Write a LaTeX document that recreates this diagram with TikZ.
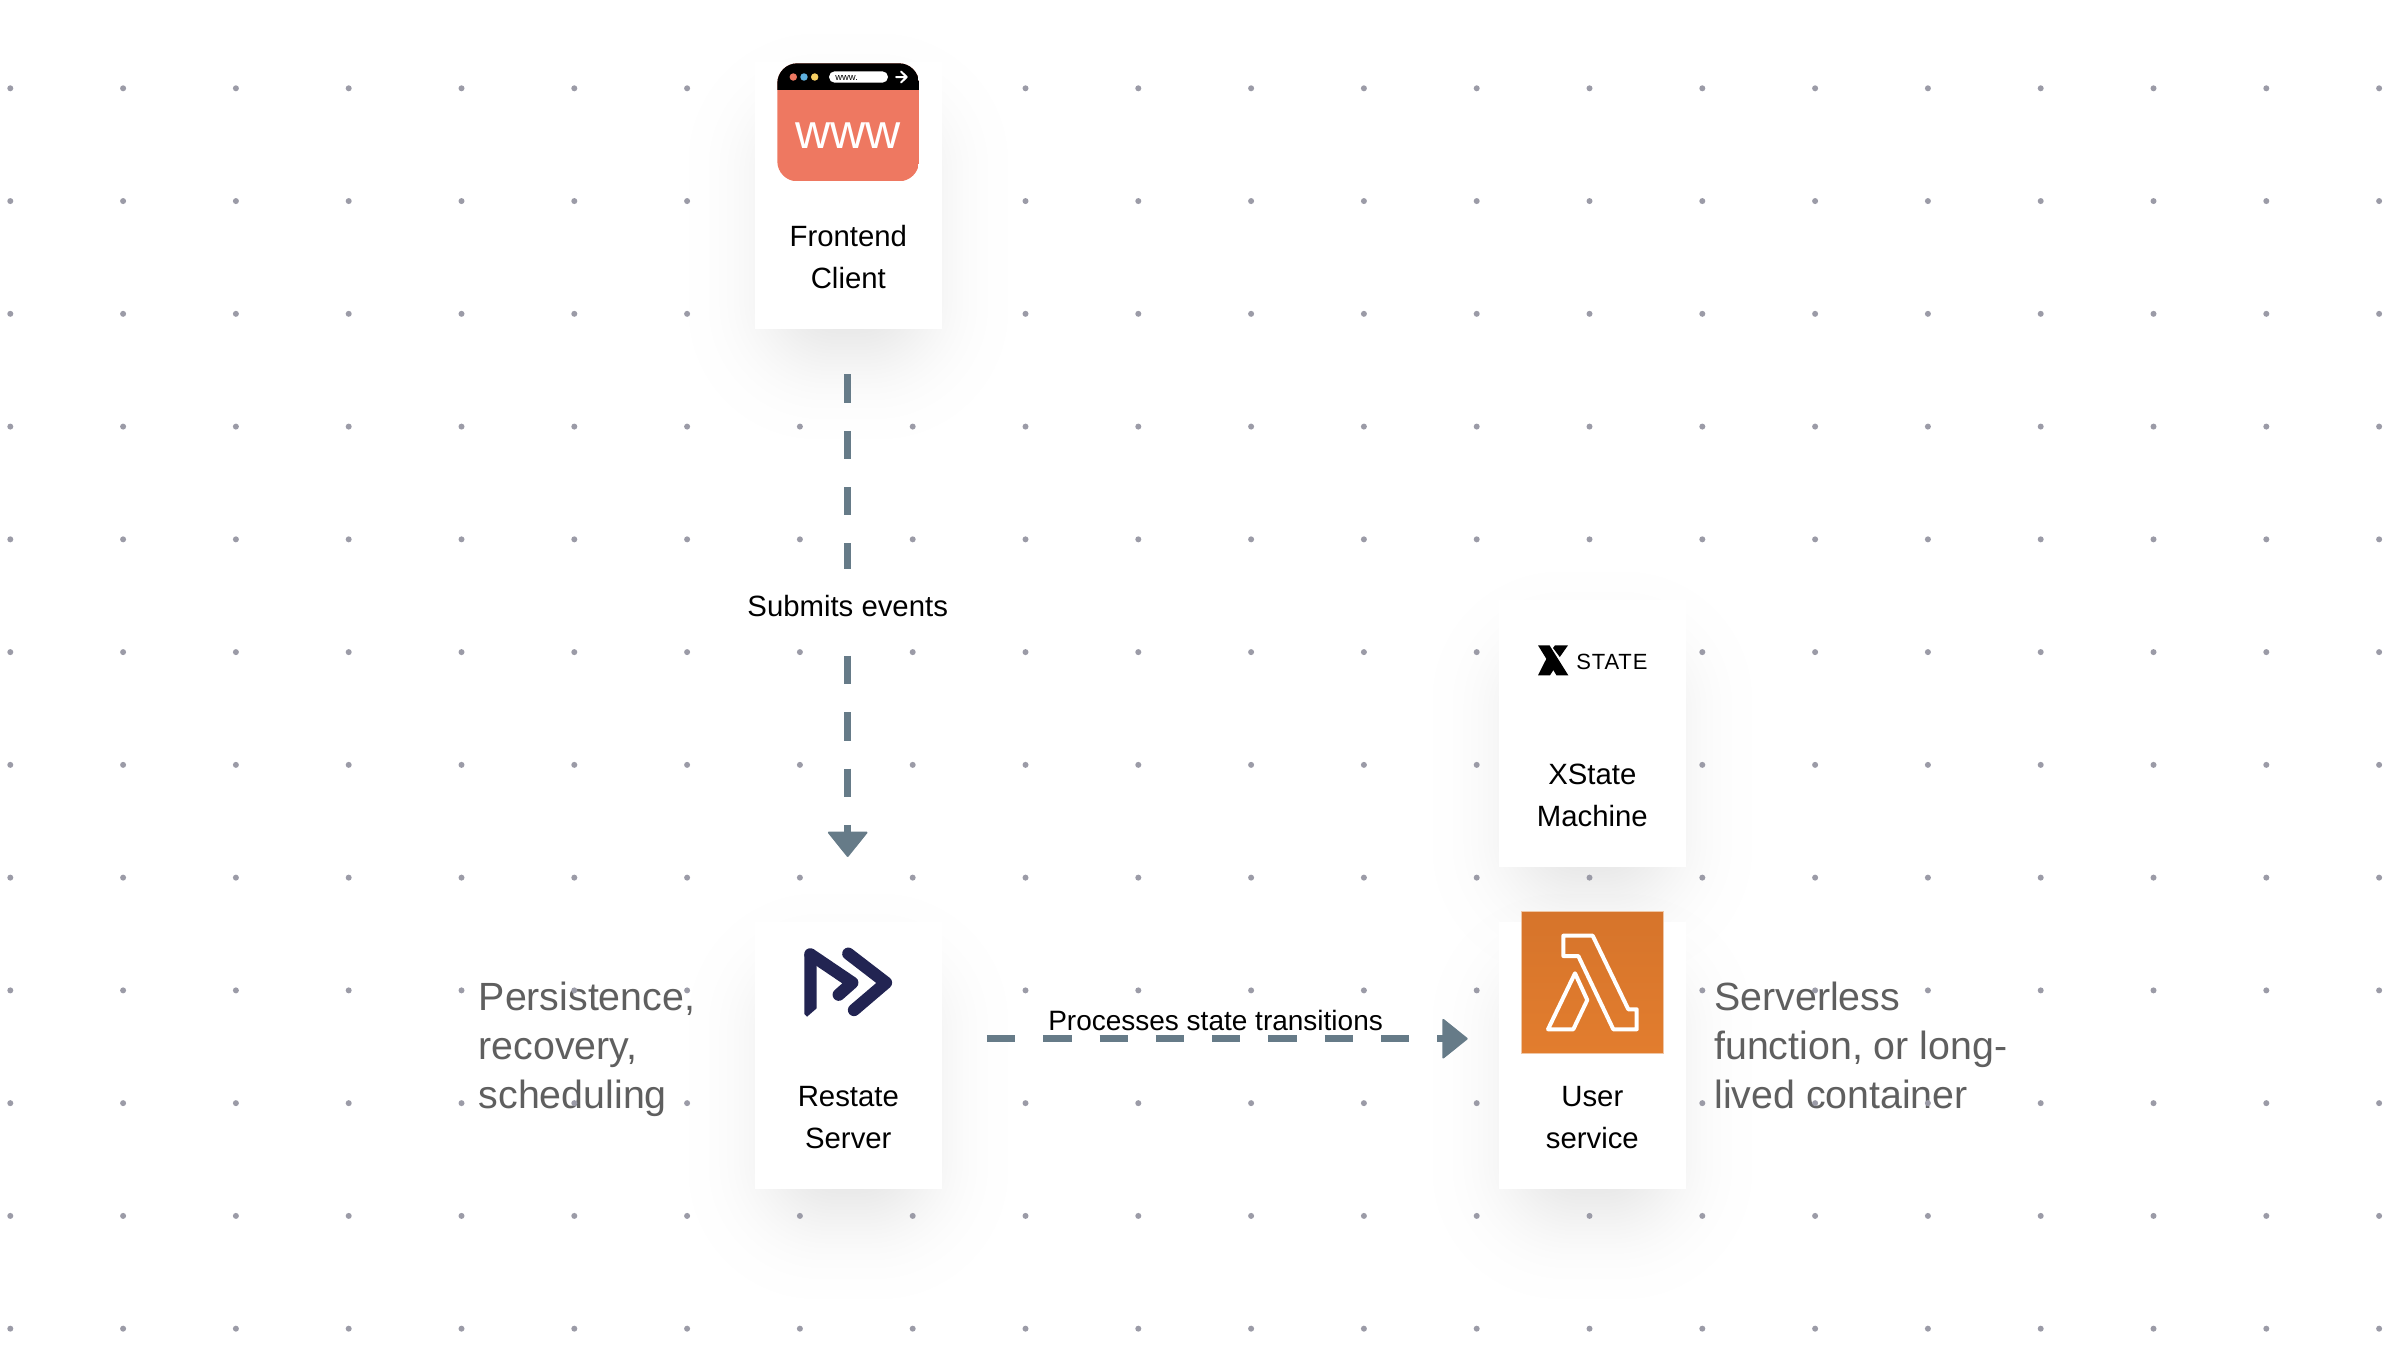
\documentclass[tikz,border=0pt]{standalone}
\usepackage{fontspec}
\setmainfont{Liberation Sans}
\usetikzlibrary{arrows.meta,calc}
\definecolor{dotc}{HTML}{9B9BA7}
\definecolor{conn}{HTML}{667B88}
\definecolor{sideg}{HTML}{5F5F5F}
\definecolor{salmon}{HTML}{EE7861}
\definecolor{dotblue}{HTML}{5FB0DF}
\definecolor{dotyellow}{HTML}{F6CE63}
\definecolor{rsnavy}{HTML}{222452}
\definecolor{lamtop}{HTML}{D6742B}
\definecolor{lambot}{HTML}{E27D2E}
\definecolor{lamedge}{HTML}{EFC6A5}
\newcommand{\cardshadow}[4]{%
  \foreach \z in {2.154,1.676,1.418,1.230,1.078,0.947,0.830,0.724,0.626,0.533,0.445,0.360,0.278,0.197,0.118,0.039,-0.039,-0.118,-0.197,-0.278,-0.360,-0.445,-0.533,-0.626,-0.724,-0.830,-0.947,-1.078,-1.230,-1.418,-1.676,-2.154}{%
    \pgfmathsetmacro\dd{\z*42}%
    \pgfmathsetmacro\rr{max(1,0.8*(70+\dd))*0.75}%
    \fill[black,opacity=.0055,rounded corners=\rr pt]
      ({#1+24-\dd},{#2+62-\dd}) rectangle ({#3-24+\dd},{#4+20+\dd});
  }%
}
\tikzset{
  card/.style={rectangle,fill=white,inner sep=0pt,minimum width=140.25pt,minimum height=200.25pt},
  cardlabel/.style={font=\fontsize{22}{31.5}\selectfont,align=center,inner sep=0pt,anchor=base,text=black},
  sidelabel/.style={font=\fontsize{29.5}{36.75}\selectfont,align=left,inner sep=0pt,anchor=base west,text=sideg},
  connector/.style={draw=conn,line width=5.25pt,dash pattern=on 21.2pt off 21.03pt,
    -{Triangle[length=19.5pt,width=31pt,line width=1.5pt,round]}},
}
\begin{document}
\begin{tikzpicture}[x=0.75pt,y=-0.75pt]
\useasboundingbox (0,0) rectangle (2400,1350);
\fill[white] (0,0) rectangle (2400,1350);
% shadows
\cardshadow{755}{62}{941.7}{328.7}
\cardshadow{1499}{600}{1685.7}{866.7}
\cardshadow{755}{922}{941.7}{1188.7}
\cardshadow{1499}{922}{1685.7}{1188.7}
% side texts
\node[sidelabel] (persist) at (478.5,1108) {Persistence,\\recovery,\\scheduling};
\node[sidelabel] (server) at (1714,1108) {Serverless\\function, or long-\\lived container};
% dots
\foreach \i in {0,...,21}{\foreach \j in {0,...,11}{
  \fill[dotc] ({10.3+112.8*\i},{88.3+112.76*\j}) circle (2.25pt);
}}
% cards
\node[card] (front) at (848.35,195.35) {};
\node[card] (xstate) at (1592.35,733.35) {};
\node[card] (restate) at (848.35,1055.35) {};
\node[card] (user) at (1592.35,1055.35) {};
% connectors
\draw[connector,shorten <=34pt,shorten >=48.5pt] ([xshift=-.5pt]front.south) -- ([xshift=-.5pt]restate.north);
\coordinate (rsout) at ([yshift=12.5pt]restate.east);
\coordinate (usin) at ([yshift=12.5pt]user.west);
\draw[connector,shorten <=33.6pt,shorten >=23.2pt] (rsout) -- (usin);
\node[inner xsep=0pt,inner ysep=0pt,fill=white,text height=35.25pt,text depth=18pt,anchor=base,
  font=\fontsize{22}{26}\selectfont] (submits) at (847.7,616) {Submits events};
\node[inner sep=0pt,anchor=base west,font=\fontsize{21}{26}\selectfont] (processes) at (1048,1030.2) {Processes state transitions};
% card labels
\node[cardlabel] (l1) at (848.3,288.3) {Frontend\\Client};
\node[cardlabel] (l2) at (1592.3,826.7) {XState\\Machine};
\node[cardlabel] (l3) at (848.3,1148.3) {Restate\\Server};
\node[cardlabel] (l4) at (1592.3,1148.3) {User\\service};
% browser icon
\begin{scope}
  \clip[rounded corners=15pt] (777.3,63.3) rectangle (919,181.3);
  \fill[salmon] (777.3,63.3) rectangle (919,181.3);
  \fill[black] (777.3,63.3) rectangle (919,90);
\end{scope}
\fill[salmon] (793.3,77) circle (2.8pt);
\fill[dotblue] (804,77) circle (2.8pt);
\fill[dotyellow] (814.7,77) circle (2.8pt);
\fill[white,rounded corners=4.2pt] (829,71.3) rectangle (888,82.7);
\node[inner sep=0pt,anchor=base west,font=\fontsize{7.1}{8}\selectfont] (urltext) at (835,80) {www.};
\draw[white,line width=1.5pt,line cap=round,line join=round] (896,77) -- (906.7,77) (901,71.5) -- (906.7,77) -- (901,82.5);
\node[inner sep=0pt,anchor=base,text=white,font=\fontsize{36.5}{40}\selectfont] (wwwtext) at (848,148) {www};
% xstate logo
\fill[black] (1538,645.3) -- (1549.5,645.3) -- (1568.3,675.3) -- (1556.5,675.3) -- cycle;
\fill[black] (1538,675.3) -- (1550,675.3) -- (1555,667.5) -- (1547,657.5) -- cycle;
\fill[black] (1555,645.3) -- (1568,645.3) -- (1559.8,657) -- (1553,648) -- cycle;
\node[inner sep=0pt,anchor=base west,font=\fontsize{16.5}{20}\selectfont\addfontfeature{LetterSpace=4}] (statetext) at (1576,669) {STATE};
% restate logo
\draw[rsnavy,line width=9.2pt,line cap=round,line join=round] (810.3,954.3) -- (852.3,982.7) -- (838.7,994.7);
\draw[rsnavy,line width=9.2pt,line cap=round,line join=round] (848.3,953.7) -- (886,982.7) -- (854,1010);
\fill[rsnavy] (804.3,954) -- (816.7,954) -- (816.7,1008.3) -- (807,1016.7) -- (804.3,1014) -- cycle;
% lambda icon
\shade[top color=lamtop,bottom color=lambot] (1521.3,911.7) rectangle (1663.3,1053.3);
\draw[lamedge,line width=.5pt] (1521.3,911.7) rectangle (1663.3,1053.3);
\draw[white,line width=3pt,line join=round]
  (1563.3,935.7) -- (1592.7,935.7) -- (1628.3,1009.3) -- (1636.7,1009.3) -- (1636.7,1029.3)
  -- (1613.3,1029.3) -- (1578.3,956) -- (1563.3,956) -- cycle;
\draw[white,line width=3pt,line join=round]
  (1575,973.3) -- (1587.3,1000) -- (1573.3,1029.3) -- (1548,1029.3) -- cycle;
\end{tikzpicture}
\end{document}
